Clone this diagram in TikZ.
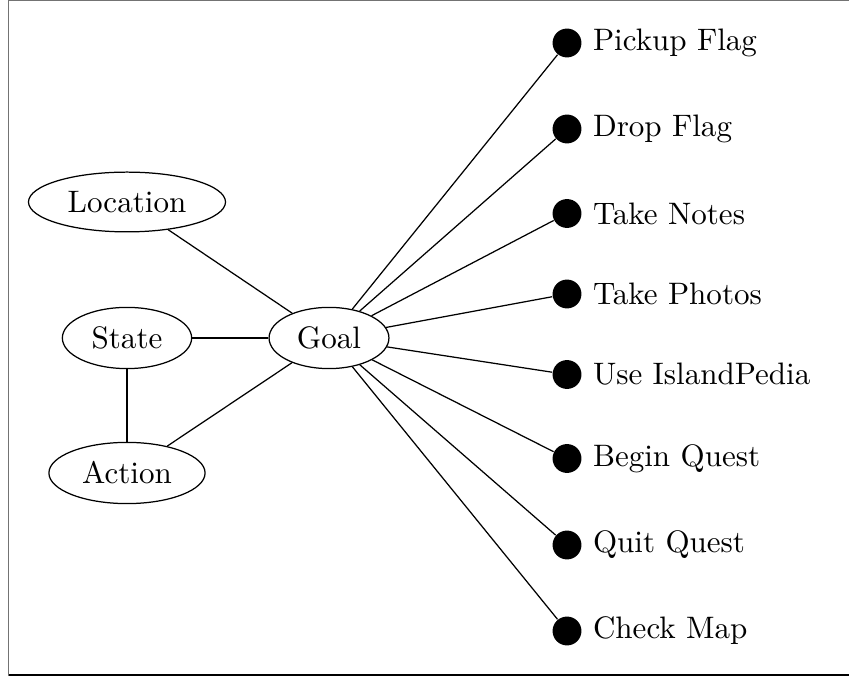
\documentclass[tikz,border=0pt]{standalone}
\usetikzlibrary{shapes.geometric}
\begin{document}
\begin{tikzpicture}[x=0.322pt,y=-0.322pt,
  concept/.style={draw,ellipse,font=\fontsize{10}{12}\selectfont},
  act/.style={circle,fill=black,inner sep=0pt,minimum size=9.3pt,
    label={[font=\fontsize{10}{12}\selectfont]right:#1}},
  link/.style={draw,line width=0.4pt}]
\useasboundingbox (0,0) rectangle (849,677);
% frame
\draw[line width=0.6pt,black!55] (8.5,676) -- (8.5,0.5) -- (849,0.5);
\draw[line width=0.6pt,black] (8.5,675) -- (849,675);
% concept nodes
\node[concept] (loc) at (127,202) {Location};
\node[concept] (state) at (127,338) {State};
\node[concept] (goal) at (329,338) {Goal};
\node[concept] (action) at (127,473) {Action};
% actions
\node[act=Pickup Flag] (a1) at (567,43) {};
\node[act=Drop Flag] (a2) at (567,129) {};
\node[act=Take Notes] (a3) at (567,213.5) {};
\node[act=Take Photos] (a4) at (567,294) {};
\node[act=Use IslandPedia] (a5) at (567,374.5) {};
\node[act=Begin Quest] (a6) at (567,458.5) {};
\node[act=Quit Quest] (a7) at (567,545) {};
\node[act=Check Map] (a8) at (567,631) {};
% connectors
\path[link] (loc) -- (goal);
\path[link] (state) -- (goal);
\path[link] (state) -- (action);
\path[link] (action) -- (goal);
\foreach \i in {1,...,8} {\path[link] (goal) -- (a\i);}
\end{tikzpicture}
\end{document}
